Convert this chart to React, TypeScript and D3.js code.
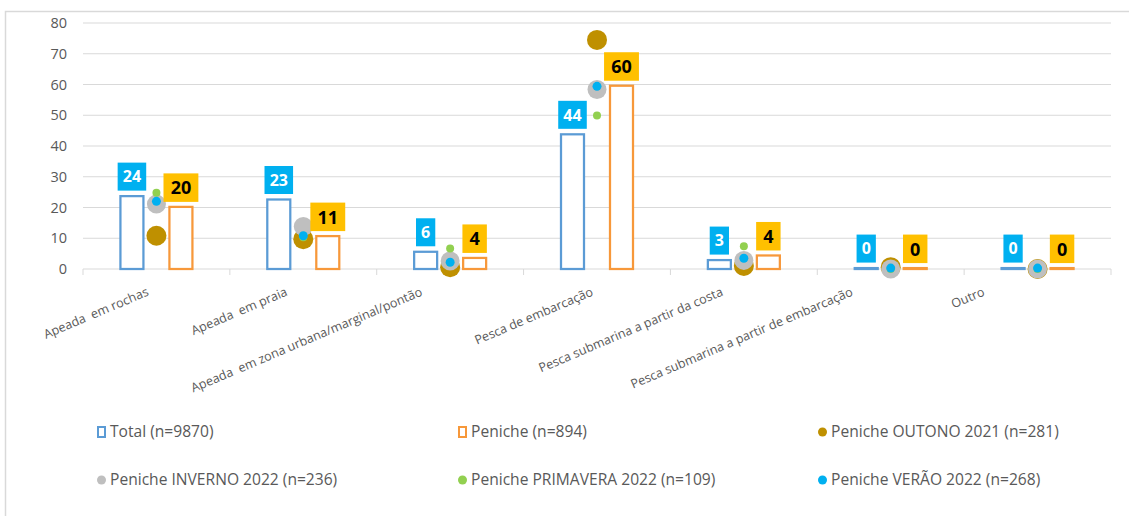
import React from "react";
import * as d3 from "d3";

const categories = [
  "Apeada  em rochas",
  "Apeada  em praia",
  "Apeada  em zona urbana/marginal/pontão",
  "Pesca de embarcação",
  "Pesca submarina a partir da costa",
  "Pesca submarina a partir de embarcação",
  "Outro",
];
const totalValues = [23.7, 22.6, 5.6, 43.8, 2.9, 0.3, 0.3];
const penicheValues = [20.2, 10.7, 3.6, 59.6, 4.4, 0.3, 0.3];
const outonoValues = [10.8, 9.7, 0.6, 74.5, 1.0, 0.6, 0];
const invernoValues = [21.1, 13.8, 2.6, 58.4, 2.8, 0, 0];
const primaveraValues = [24.8, 10.3, 6.7, 49.9, 7.4, 0, 0];
const veraoValues = [22.0, 10.8, 2.2, 59.4, 3.5, 0.3, 0.3];
const yTicks = [0, 10, 20, 30, 40, 50, 60, 70, 80];
const legendLabels = [
  "Total (n=9870)",
  "Peniche (n=894)",
  "Peniche OUTONO 2021 (n=281)",
  "Peniche INVERNO 2022 (n=236)",
  "Peniche PRIMAVERA 2022 (n=109)",
  "Peniche VERÃO 2022 (n=268)",
];

// layout (not data): horizontal nudge of rotated category labels
const labelShift = [-7, -15, -27, -3, -20, -37, -52];

const W = 1129;
const H = 516;
const FONT = "'Open Sans', 'Noto Sans', sans-serif";
const TEXT = "#595959";
const GRID = "#D9D9D9";
const C_TOTAL = "#5B9BD5";
const C_PEN = "#F7983A";
const C_OUT = "#BF9000";
const C_INV = "#BFBFBF";
const C_PRI = "#92D050";
const C_VER = "#00B0F0";
const C_LBL_PEN = "#FFC000";

export default function App() {
  const x = d3.scaleBand<string>().domain(categories).range([83, 1111]).padding(0);
  const y = d3.scaleLinear().domain([0, 80]).range([269, 23]);
  const bw = x.bandwidth();
  const barW = 25;
  const gap = 12;
  const cx = (c: string) => (x(c) as number) + bw / 2;

  const markerSeries = [
    { vals: outonoValues, color: C_OUT, r: 10 },
    { vals: invernoValues, color: C_INV, r: 9.5 },
    { vals: primaveraValues, color: C_PRI, r: 4 },
    { vals: veraoValues, color: C_VER, r: 4.5 },
  ];

  const labelW = (s: string, fs: number, pad: number) => s.length * fs * 0.58 + pad * 2;

  const legendX = [97, 458, 818];
  const legendY = [432, 480];
  const legendKinds = [
    { kind: "rect", color: C_TOTAL },
    { kind: "rect", color: C_PEN },
    { kind: "dot", color: C_OUT },
    { kind: "dot", color: C_INV },
    { kind: "dot", color: C_PRI },
    { kind: "dot", color: C_VER },
  ];

  return (
    <svg
      width={W}
      height={H}
      style={{ position: "absolute", left: 0, top: 0, background: "#fff" }}
      fontFamily={FONT}
    >
      <rect x={5.5} y={11.5} width={W + 10} height={H + 10} fill="#fff" stroke={GRID} strokeWidth={1.5} />
      {/* gridlines */}
      {yTicks.map((t) => (
        <g key={t}>
          <line x1={83} x2={1111} y1={y(t)} y2={y(t)} stroke={GRID} strokeWidth={1} />
          <text x={67} y={y(t)} dy="0.35em" textAnchor="end" fontSize={14.5} fill={TEXT}>
            {t}
          </text>
        </g>
      ))}
      {/* category tick marks */}
      {d3.range(categories.length + 1).map((i) => {
        const xx = 83 + i * bw;
        return <line key={i} x1={xx} x2={xx} y1={y(0)} y2={y(0) + 6} stroke={GRID} strokeWidth={1} />;
      })}
      {/* bars */}
      {categories.map((c, i) => (
        <g key={c}>
          <rect
            x={cx(c) - gap - barW + 1}
            y={y(totalValues[i])}
            width={barW - 2}
            height={y(0) - y(totalValues[i])}
            fill="#fff"
            stroke={C_TOTAL}
            strokeWidth={2.25}
          />
          <rect
            x={cx(c) + gap + 1}
            y={y(penicheValues[i])}
            width={barW - 2}
            height={y(0) - y(penicheValues[i])}
            fill="#fff"
            stroke={C_PEN}
            strokeWidth={2.25}
          />
        </g>
      ))}
      {/* markers */}
      {markerSeries.map((s, si) => (
        <g key={si}>
          {categories.map((c, i) => (
            <circle key={c} cx={cx(c)} cy={y(s.vals[i])} r={s.r} fill={s.color} />
          ))}
        </g>
      ))}
      {/* data labels */}
      {categories.map((c, i) => {
        const tl = String(Math.round(totalValues[i]));
        const pl = String(Math.round(penicheValues[i]));
        const tw = labelW(tl, 16, 5);
        const pw = labelW(pl, 18, 7);
        const tX = cx(c) - gap - barW / 2;
        const pX = cx(c) + gap + barW / 2;
        const tTop = y(totalValues[i]) - 5.5 - 28;
        const pTop = y(penicheValues[i]) - 5.5 - 28;
        return (
          <g key={c}>
            <rect x={tX - tw / 2} y={tTop} width={tw} height={28} fill={C_VER} />
            <text x={tX} y={tTop + 14} dy="0.36em" textAnchor="middle" fontSize={16} fontWeight={700} fill="#fff">
              {tl}
            </text>
            <rect x={pX - pw / 2} y={pTop} width={pw} height={28.5} fill={C_LBL_PEN} />
            <text x={pX} y={pTop + 14.5} dy="0.36em" textAnchor="middle" fontSize={18} fontWeight={700} fill="#000">
              {pl}
            </text>
          </g>
        );
      })}
      {/* category labels */}
      {categories.map((c, i) => (
        <text
          key={c}
          transform={`translate(${cx(c) + labelShift[i]},295) rotate(-23)`}
          textAnchor="end"
          fontSize={12.6}
          fill={TEXT}
          style={{ whiteSpace: "pre" }}
        >
          {c}
        </text>
      ))}
      {/* legend */}
      {legendLabels.map((l, i) => {
        const lx = legendX[i % 3];
        const ly = legendY[Math.floor(i / 3)];
        const k = legendKinds[i];
        return (
          <g key={l}>
            {k.kind === "rect" ? (
              <rect x={lx + 1} y={ly - 5} width={7} height={10} fill="#fff" stroke={k.color} strokeWidth={2} />
            ) : (
              <circle cx={lx + 4.5} cy={ly} r={4.5} fill={k.color} />
            )}
            <text x={lx + 13} y={ly} dy="0.35em" fontSize={15.6} fill={TEXT}>
              {l}
            </text>
          </g>
        );
      })}
    </svg>
  );
}
